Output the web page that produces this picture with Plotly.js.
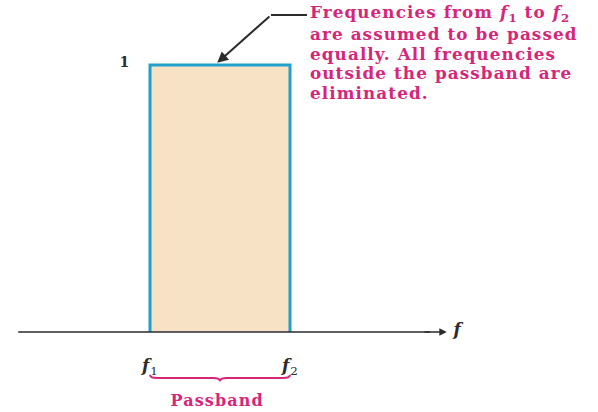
<!DOCTYPE html>
<html>
<head>
<meta charset="utf-8">
<script src="https://cdn.plot.ly/plotly-3.0.1.min.js"></script>
<style>
  html, body { margin: 0; padding: 0; background: #ffffff; }
  #chart { width: 598px; height: 412px; }
  /* the serif face runs a little narrow for this figure's lettering */
  #chart text.annotation-text { letter-spacing: 1.1px; }
</style>
</head>
<body>
<div id="chart"></div>
<script>
// Ideal band-pass response: gain of 1 between the two cutoff frequencies
const cutoffs = [1, 2];            // f1, f2
const cutoffLabels = ['<b><i>f</i></b><sub>1</sub>', '<b><i>f</i></b><sub>2</sub>'];
const passGain = 1;
const gainLabel = '<b>1</b>';
const axisLabel = '<b><i>f</i></b>';
const bandLabel = '<b>Passband</b>';
const noteLines = [
  '<b>Frequencies from <i>f</i><sub>1</sub> to <i>f</i><sub>2</sub></b>',
  '<b>are assumed to be passed</b>',
  '<b>equally. All frequencies</b>',
  '<b>outside the passband are</b>',
  '<b>eliminated.</b>'
];

const f1 = cutoffs[0], f2 = cutoffs[1];
const xr = [-0.0714, 4.2];
const yr = [-0.2996, 1.2434];
const pxY = 267;                   // plot pixels per unit of gain

const serif = '"DejaVu Serif", "Liberation Serif", serif';
const pink = '#d6267a';
const ink = '#2b2b2b';
const edge = '#22a0cc';

// Response rectangle
const band = {
  x: [f1, f1, f2, f2],
  y: [0, passGain, passGain, 0],
  mode: 'lines',
  fill: 'toself',
  fillcolor: '#f7e2c6',
  line: { color: edge, width: 3 },
  hoverinfo: 'skip',
  showlegend: false
};

// Frequency axis line
const axisEnd = 3.0;
const axisLine = {
  x: [xr[0] + 0.13, axisEnd],
  y: [0, 0],
  mode: 'lines',
  line: { color: ink, width: 1.5 },
  hoverinfo: 'skip',
  showlegend: false
};

// Leader from the note to the top edge
const bendX = 1.864, bendY = 1.187, leadEndX = 2.121;
const leader = {
  x: [leadEndX, bendX],
  y: [bendY, bendY],
  mode: 'lines',
  line: { color: ink, width: 2 },
  hoverinfo: 'skip',
  showlegend: false
};

// Brace under the passband
const by = -0.172, bh = 0.012;
const mid = (f1 + f2) / 2;
const bracePath = `M ${f1} ${by + bh} Q ${f1} ${by} ${f1 + 0.05} ${by} ` +
  `L ${mid - 0.05} ${by} Q ${mid} ${by} ${mid} ${by - bh} ` +
  `Q ${mid} ${by} ${mid + 0.05} ${by} L ${f2 - 0.05} ${by} Q ${f2} ${by} ${f2} ${by + bh}`;

const annotations = [
  // axis arrowhead
  { x: axisEnd + 0.12, y: 0, ax: axisEnd - 0.05, ay: 0, axref: 'x', ayref: 'y',
    xref: 'x', yref: 'y', showarrow: true, arrowhead: 2, arrowsize: 1, arrowwidth: 1.5,
    arrowcolor: ink, text: '' },
  { x: axisEnd + 0.15, y: 0.01, xref: 'x', yref: 'y', text: axisLabel, showarrow: false,
    xanchor: 'left', font: { family: serif, size: 17, color: ink } },
  // gain label
  { x: 0.82, y: passGain + 0.01, xref: 'x', yref: 'y', text: gainLabel, showarrow: false,
    font: { family: serif, size: 14, color: ink } },
  // cutoff labels
  { x: f1, y: -0.131, xref: 'x', yref: 'y', text: cutoffLabels[0], showarrow: false,
    font: { family: serif, size: 17, color: ink } },
  { x: f2, y: -0.131, xref: 'x', yref: 'y', text: cutoffLabels[1], showarrow: false,
    font: { family: serif, size: 17, color: ink } },
  // passband label
  { x: mid - 0.02, y: -0.255, xref: 'x', yref: 'y', text: bandLabel, showarrow: false,
    font: { family: serif, size: 16, color: pink } },
  // leader arrow tip
  { x: 1.48, y: passGain + 0.008, ax: bendX, ay: bendY, axref: 'x', ayref: 'y',
    xref: 'x', yref: 'y', showarrow: true, arrowhead: 2, arrowsize: 1.1, arrowwidth: 2,
    arrowcolor: ink, text: '' }
];

// Note, one annotation per line with a tight line pitch
const noteTopPx = 14, notePitchPx = 19.8;
noteLines.forEach((line, i) => {
  annotations.push({
    x: 2.129, y: (332 - (noteTopPx + i * notePitchPx)) / pxY,
    xref: 'x', yref: 'y', xanchor: 'left', yanchor: 'middle',
    align: 'left', text: line, showarrow: false,
    font: { family: serif, size: 16.8, color: pink }
  });
});

const layout = {
  width: 598, height: 412,
  margin: { l: 0, r: 0, t: 0, b: 0 },
  paper_bgcolor: '#ffffff', plot_bgcolor: '#ffffff',
  xaxis: { range: xr, visible: false, fixedrange: true },
  yaxis: { range: yr, visible: false, fixedrange: true },
  shapes: [
    { type: 'path', path: bracePath, xref: 'x', yref: 'y',
      line: { color: pink, width: 2 } }
  ],
  annotations: annotations,
  showlegend: false
};

Plotly.newPlot('chart', [band, axisLine, leader], layout, { displayModeBar: false, staticPlot: true });
</script>
</body>
</html>
